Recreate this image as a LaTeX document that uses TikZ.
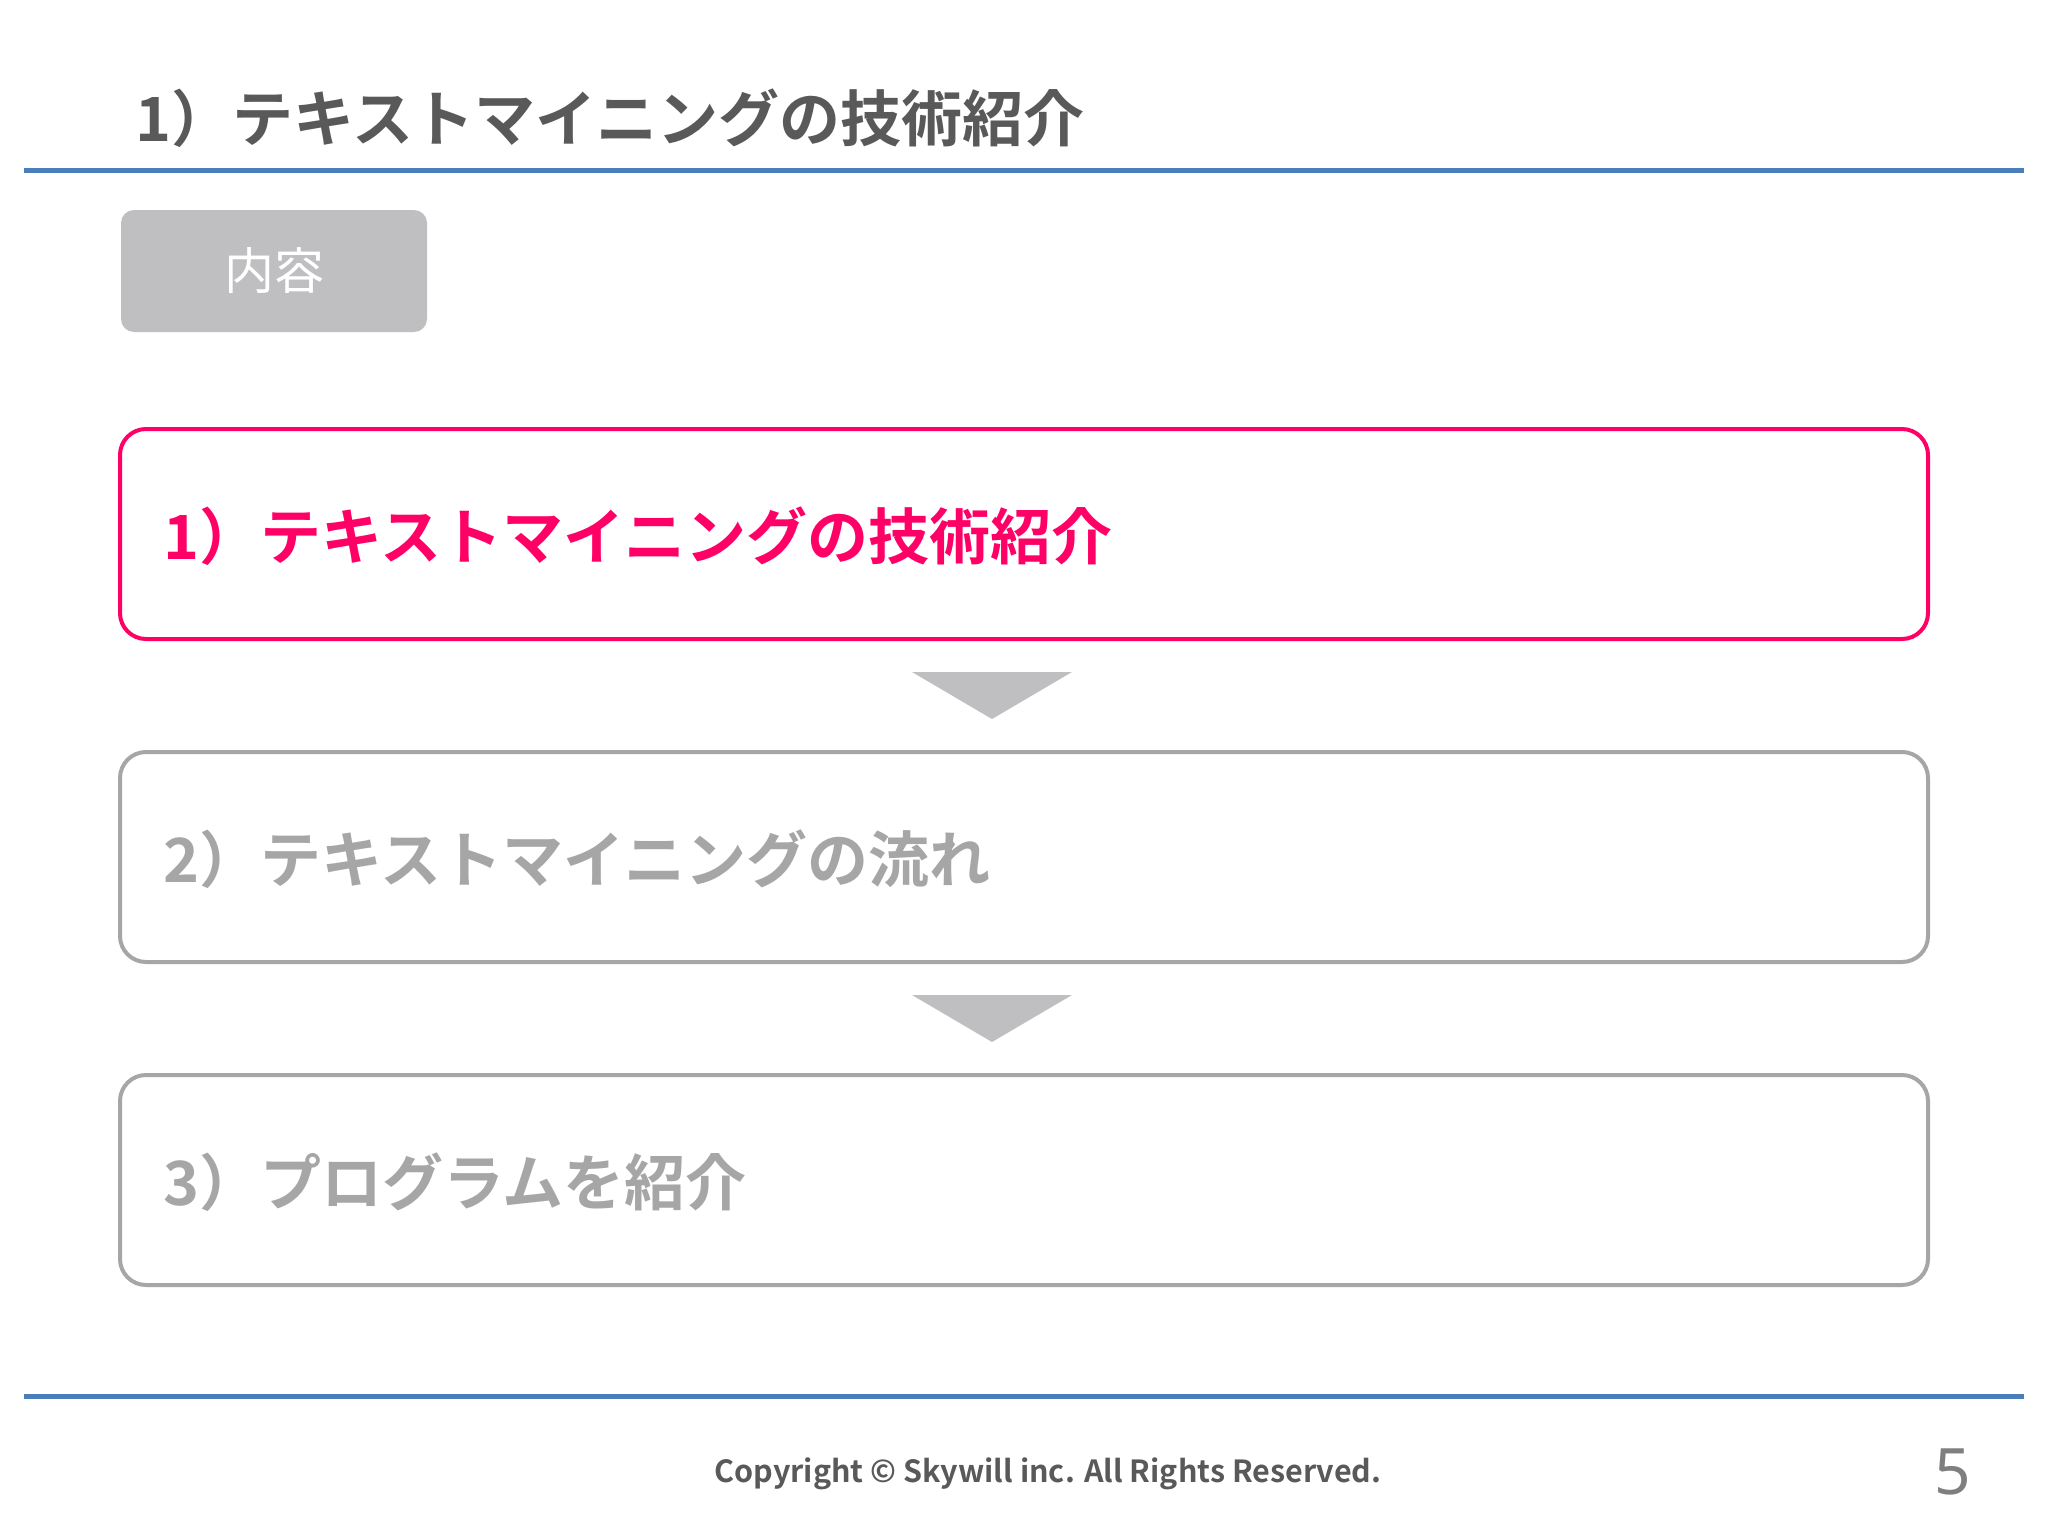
\documentclass[tikz,border=0pt]{standalone}
\usepackage{fontspec}
\usetikzlibrary{calc}
\newfontfamily\jpbold{Noto Sans CJK JP Bold}
\newfontfamily\jpreg{Noto Sans CJK JP}
\newfontfamily\footfont{Noto Sans}
\definecolor{rulebl}{HTML}{4A7EBB}
\definecolor{titlegray}{HTML}{595959}
\definecolor{pinkc}{HTML}{FF0066}
\definecolor{boxgray}{HTML}{A6A6A6}
\definecolor{tabgray}{HTML}{BFBFC1}
\definecolor{arrowgray}{HTML}{BFBFC1}
\definecolor{numgray}{HTML}{7F7F7F}
\tikzset{
  stepbox/.style={draw, rounded corners=26pt, line width=4pt, minimum width=1808pt, minimum height=210pt, inner sep=0pt},
  steptext/.style={anchor=west, inner sep=0pt, font=\jpbold\fontsize{61pt}{70pt}\selectfont},
  rulebar/.style={draw=rulebl, line width=5pt},
  downtri/.style={fill=arrowgray}
}
\begin{document}
\begin{tikzpicture}[x=1pt,y=-1pt]
\useasboundingbox (0,0) rectangle (2048,1536);
\fill[white] (0,0) rectangle (2048,1536);
% title
\node[anchor=west, inner sep=0pt, text=titlegray, font=\jpbold\fontsize{61pt}{70pt}\selectfont] (title) at (135,118) {1）テキストマイニングの技術紹介};
\coordinate (tl) at (24,170);
\coordinate (tr) at (2024,170);
\draw[rulebar] (tl) -- (tr);
% tab
\node[fill=tabgray, rounded corners=13pt, minimum width=306pt, minimum height=122pt, inner sep=0pt, text=white, font=\jpreg\fontsize{50pt}{56pt}\selectfont] (tab) at (274,271) {内容};
% boxes
\node[stepbox, draw=pinkc, fill=white] (b1) at (1024,534) {};
\node[stepbox, draw=boxgray, fill=white] (b2) at (1024,857) {};
\node[stepbox, draw=boxgray, fill=white] (b3) at (1024,1180) {};
\node[steptext, text=pinkc] (t1) at ($(b1.west)+(45,2)$) {1）テキストマイニングの技術紹介};
\node[steptext, text=boxgray] (t2) at ($(b2.west)+(45,2)$) {2）テキストマイニングの流れ};
\node[steptext, text=boxgray] (t3) at ($(b3.west)+(45,2)$) {3）プログラムを紹介};
% arrows
\fill[downtri] ($(b1.south)+(-112,31)$) -- ($(b1.south)+(48,31)$) -- ($(b1.south)+(-32,78)$) -- cycle;
\fill[downtri] ($(b2.south)+(-112,31)$) -- ($(b2.south)+(48,31)$) -- ($(b2.south)+(-32,78)$) -- cycle;
% footer
\coordinate (fl) at (24,1396);
\coordinate (fr) at (2024,1396);
\draw[rulebar] (fl) -- (fr);
\node[inner sep=0pt, text=titlegray, font=\jpbold\fontsize{30.5pt}{34pt}\selectfont] (copy) at (1048,1474) {Copyright © Skywill inc. All Rights Reserved.};
\node[inner sep=0pt, text=numgray, font=\footfont\fontsize{64pt}{70pt}\selectfont] (pnum) at (1953,1472) {5};
\end{tikzpicture}
\end{document}
